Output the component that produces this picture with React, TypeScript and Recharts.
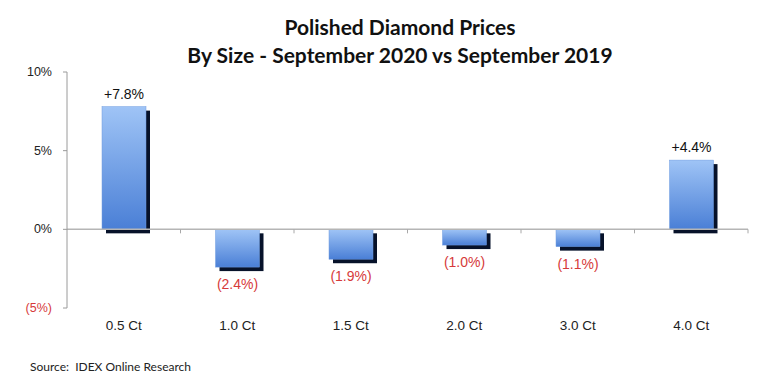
import React from 'react';
import { BarChart, Bar, XAxis, YAxis, ReferenceLine, LabelList } from 'recharts';

const categories = ['0.5 Ct', '1.0 Ct', '1.5 Ct', '2.0 Ct', '3.0 Ct', '4.0 Ct'];
const changes = [7.8, -2.4, -1.9, -1.0, -1.1, 4.4];
const yTicks = [-5, 0, 5, 10];
const titleLines = ['Polished Diamond Prices', 'By Size - September 2020 vs September 2019'];
const sourceText = 'Source:  IDEX Online Research';

const data = categories.map((c, i) => ({ name: c, value: changes[i] }));

const fmt = (v: number) => (v < 0 ? `(${Math.abs(v).toFixed(1)}%)` : `+${v.toFixed(1)}%`);
const fmtTick = (v: number) => (v < 0 ? `(${Math.abs(v)}%)` : `${v}%`);

const BarShape = (props: any) => {
  const { x, y, width, height } = props;
  const y0 = Math.min(y, y + height);
  const h = Math.abs(height);
  return (
    <g>
      <rect x={x + 4} y={y0 + 4} width={width} height={h} fill="#07122a" />
      <rect x={x} y={y0} width={width} height={h} fill="url(#barGrad)" stroke="#6f9be0" strokeWidth={0.5} />
    </g>
  );
};

const ZeroLine = (props: any) => {
  const { x1, y1, x2 } = props;
  const n = categories.length;
  const step = (x2 - x1) / n;
  const ticks = [];
  for (let k = 1; k <= n; k++) {
    const tx = x1 + step * k;
    ticks.push(<line key={k} x1={tx} y1={y1} x2={tx} y2={y1 + 4} stroke="#a8a8a8" strokeWidth={1} />);
  }
  return (
    <g>
      <line x1={x1} y1={y1} x2={x2} y2={y1} stroke="#b5b5b5" strokeWidth={1.5} />
      {ticks}
    </g>
  );
};

const ValueLabel = (props: any) => {
  const { x, y, width, height, value } = props;
  const top = Math.min(y, y + height);
  const bottom = Math.max(y, y + height);
  const neg = value < 0;
  return (
    <text
      x={x + width / 2}
      y={neg ? bottom + 17 : top - 13}
      textAnchor="middle"
      dominantBaseline="central"
      fontFamily="'Liberation Sans', Arial, sans-serif"
      fontSize={14}
      fill={neg ? '#d63a3a' : '#111'}
    >
      {fmt(value)}
    </text>
  );
};

const YTick = (props: any) => {
  const { y, payload } = props;
  const v = payload.value;
  return (
    <text
      x={52}
      y={y}
      textAnchor="end"
      dominantBaseline="central"
      fontFamily="'Liberation Sans', Arial, sans-serif"
      fontSize={12.5}
      fill={v < 0 ? '#d63a3a' : '#222'}
    >
      {fmtTick(v)}
    </text>
  );
};

const XTick = (props: any) => {
  const { x, payload } = props;
  return (
    <text
      x={x}
      y={325}
      textAnchor="middle"
      dominantBaseline="central"
      fontFamily="'Liberation Sans', Arial, sans-serif"
      fontSize={13.5}
      fill="#222"
    >
      {payload.value}
    </text>
  );
};

export default function App() {
  return (
    <div style={{ position: 'absolute', left: 0, top: 0, background: '#fff' }}>
      <BarChart
        width={771}
        height={385}
        data={data}
        margin={{ top: 72, right: 23, bottom: 0, left: 0 }}
      >
        <defs>
          <linearGradient id="barGrad" x1="0" y1="0" x2="0" y2="1">
            <stop offset="0%" stopColor="#9fc4f6" />
            <stop offset="100%" stopColor="#4a7fd6" />
          </linearGradient>
        </defs>
        <text x={400} y={35} textAnchor="middle" fontFamily="Lato, 'Open Sans', sans-serif" fontWeight="bold" fontSize={21} fill="#111">
          {titleLines[0]}
        </text>
        <text x={400} y={63} textAnchor="middle" fontFamily="Lato, 'Open Sans', sans-serif" fontWeight="bold" fontSize={21} fill="#111">
          {titleLines[1]}
        </text>
        <text x={30} y={371} fontFamily="Lato, 'Open Sans', sans-serif" fontSize={12} fill="#222" style={{ whiteSpace: 'pre' }}>
          {sourceText}
        </text>
        <XAxis
          dataKey="name"
          axisLine={false}
          tickLine={false}
          tick={<XTick />}
          height={77}
          interval={0}
        />
        <YAxis
          domain={[-5, 10]}
          ticks={yTicks}
          interval={0}
          axisLine={{ stroke: '#9a9a9a' }}
          tickLine={{ stroke: '#9a9a9a' }}
          tickSize={4}
          tick={<YTick />}
          width={67}
        />
        <ReferenceLine y={0} shape={<ZeroLine />} />
        <Bar dataKey="value" barSize={44} shape={<BarShape />} isAnimationActive={false}>
          <LabelList dataKey="value" content={<ValueLabel />} />
        </Bar>
      </BarChart>
    </div>
  );
}
